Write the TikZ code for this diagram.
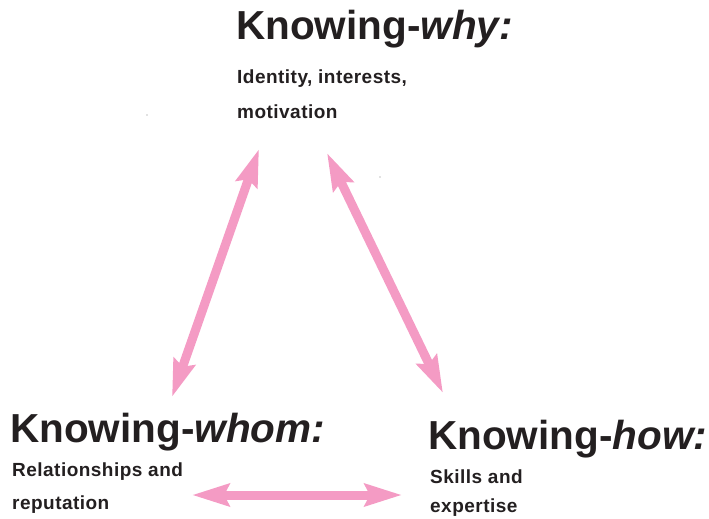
\documentclass[tikz,border=0pt]{standalone}
\usepackage{fontspec}
\setmainfont{Liberation Sans}
\newfontfamily\bodyfont[LetterSpace=2.5]{Liberation Sans}
\usepackage{xcolor}
\usetikzlibrary{arrows.meta, positioning}

\definecolor{arrowpink}{RGB}{244,155,196}
\definecolor{inkblack}{RGB}{35,31,32}

\begin{document}
\begin{tikzpicture}[x=1pt, y=-1pt,
  title/.style={anchor=base west, inner sep=0pt, text=inkblack, font=\bfseries\fontsize{40.5}{48}\selectfont},
  body/.style={anchor=base west, inner sep=0pt, text=inkblack, font=\bodyfont\bfseries\fontsize{19}{22}\selectfont},
  link/.style={draw=arrowpink, line width=9pt, {Stealth[length=37pt, width=22pt, inset=5pt]}-{Stealth[length=37pt, width=22pt, inset=5pt]}}]
\useasboundingbox (0,0) rectangle (709,519);

% Nodes
\node[title] (why) at (236,40) {Knowing-\textit{why:}};
\node[body] (why1) at (237,83) {Identity, interests,};
\node[body] (why2) at (237,118) {motivation};

\node[title] (whom) at (10,442) {Knowing-\textit{whom:}};
\node[body] (whom1) at (12,476) {Relationships and};
\node[body] (whom2) at (12,509) {reputation};

\node[title] (how) at (428,449) {Knowing-\textit{how:}};
\node[body] (how1) at (430,483) {Skills and};
\node[body] (how2) at (430,512) {expertise};

% Arrow ends
\coordinate (wl) at (259,149);
\coordinate (ml) at (172,397);
\coordinate (wr) at (327,153);
\coordinate (hr) at (443,393);
\coordinate (mb) at (192,495);
\coordinate (hb) at (402,495);

% Edges
\draw[link] (ml) -- (wl);
\draw[link] (wr) -- (hr);
\draw[link] (mb) -- (hb);

% Specks
\fill[gray] (147,115) circle (0.7);
\fill[gray] (380,177) circle (0.7);

\end{tikzpicture}
\end{document}
